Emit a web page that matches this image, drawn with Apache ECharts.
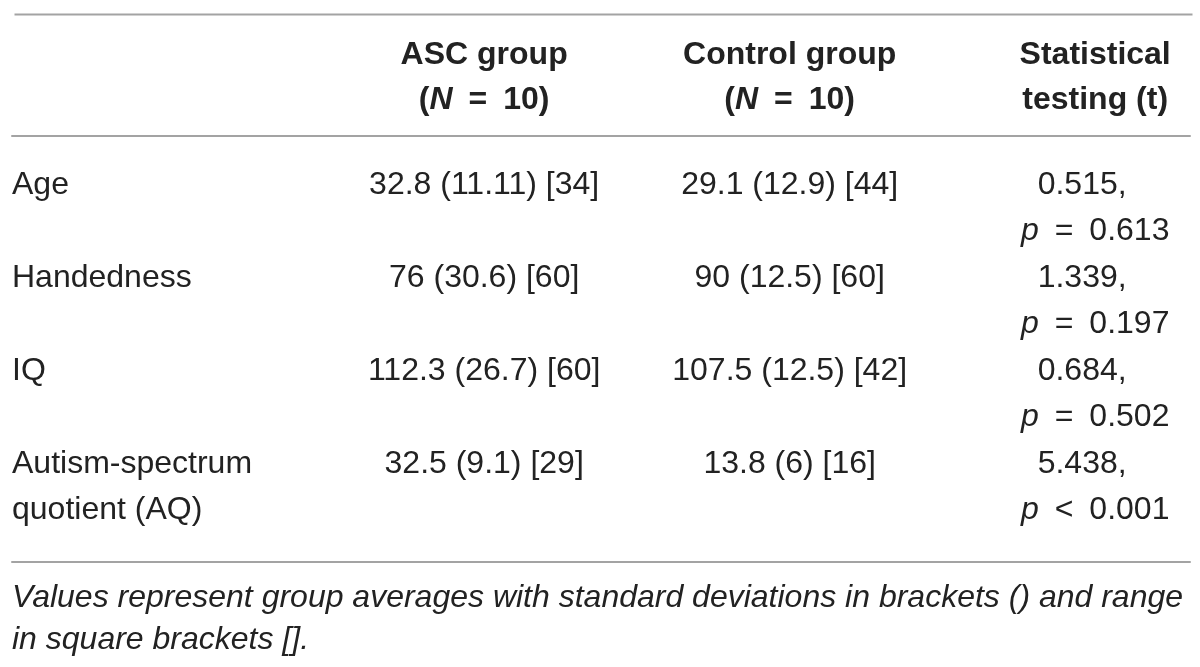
<!DOCTYPE html>
<html>
<head>
<meta charset="utf-8">
<title>Participant characteristics</title>
<script src="https://cdn.jsdelivr.net/npm/echarts@6/dist/echarts.min.js"></script>
<style>
  html, body { margin: 0; padding: 0; background: #fff; }
  #main { width: 1200px; height: 667px; }
</style>
</head>
<body>
<div id="main"></div>
<script>
// table content
const rowLabels = ['Age', 'Handedness', 'IQ', 'Autism-spectrum\nquotient (AQ)']
const groupTitles = ['ASC group', 'Control group']
const groupSizes = [10, 10]
const testTitle = ['Statistical', 'testing (t)']

const ascMean = ['32.8', '76', '112.3', '32.5']
const ascSd = ['11.11', '30.6', '26.7', '9.1']
const ascRange = [34, 60, 60, 29]

const ctrlMean = ['29.1', '90', '107.5', '13.8']
const ctrlSd = ['12.9', '12.5', '12.5', '6']
const ctrlRange = [44, 60, 42, 16]

const tValues = ['0.515', '1.339', '0.684', '5.438']
const pSigns = ['=', '=', '=', '<']
const pValues = ['0.613', '0.197', '0.502', '0.001']

const footNote = [
  'Values represent group averages with standard deviations in brackets () and range',
  'in square brackets [].'
]

const FAMILY = '"Liberation Sans", Arial, Helvetica, sans-serif'
const INK = '#222222'
const RULE = '#a3a3a3'
const SP = '\u2002'
const LINE = 46.5

function font(size, weight, style) {
  return { fontFamily: FAMILY, fontSize: size, fontWeight: weight || 'normal', fontStyle: style || 'normal', fill: INK }
}

// body cells: [column, row]
const cells = []
const cellText = []
rowLabels.forEach((name, r) => {
  cells.push([0, r]); cellText.push(name)
  cells.push([1, r]); cellText.push(`${ascMean[r]} (${ascSd[r]}) [${ascRange[r]}]`)
  cells.push([2, r]); cellText.push(`${ctrlMean[r]} (${ctrlSd[r]}) [${ctrlRange[r]}]`)
  cells.push([3, r]); cellText.push(`{t|${tValues[r]},}\n{i|p}${SP}${pSigns[r]}${SP}${pValues[r]}`)
})

// header cells, one per column
const headCells = [[1], [2], [3]]
const headText = [
  `${groupTitles[0]}\n({bi|N}${SP}=${SP}${groupSizes[0]})`,
  `${groupTitles[1]}\n({bi|N}${SP}=${SP}${groupSizes[1]})`,
  testTitle.join('\n')
]

const chart = echarts.init(document.getElementById('main'))

chart.setOption({
  animation: false,
  backgroundColor: '#ffffff',
  title: {
    text: footNote.join('\n'),
    left: 12,
    top: 577,
    padding: 0,
    textStyle: {
      fontFamily: FAMILY, fontSize: 32, fontStyle: 'italic', fontWeight: 'normal',
      color: INK, lineHeight: 42
    }
  },
  grid: { left: 12, right: 10, top: 136, bottom: 105 },
  xAxis: [
    {
      type: 'value', position: 'top', min: -0.5455, max: 3.3104,
      axisLine: { show: true, onZero: false, lineStyle: { color: RULE, width: 2 } },
      axisTick: { show: false }, axisLabel: { show: false }, splitLine: { show: false }
    },
    {
      type: 'value', position: 'bottom', min: -0.5455, max: 3.3104,
      axisLine: { show: true, onZero: false, lineStyle: { color: RULE, width: 2 } },
      axisTick: { show: false }, axisLabel: { show: false }, splitLine: { show: false }
    }
  ],
  // one unit = one table row (two text lines)
  yAxis: {
    type: 'value', inverse: true, min: -0.527, max: 4.054, show: false
  },
  graphic: [
    {
      type: 'line', left: 12, top: 12,
      shape: { x1: 0, y1: 0, x2: 1178, y2: 0 },
      style: { stroke: RULE, lineWidth: 2 }
    }
  ],
  series: [
    {
      type: 'custom',
      name: 'header',
      silent: true,
      data: headCells,
      renderItem(params, api) {
        const col = api.value(0)
        const pt = api.coord([col, 0])
        return {
          type: 'text',
          x: pt[0],
          y: params.coordSys.y - 103.5,
          style: Object.assign(font(32, 'bold'), {
            text: headText[params.dataIndex],
            align: 'center',
            verticalAlign: 'top',
            lineHeight: 45,
            rich: {
              bi: Object.assign(font(32, 'bold', 'italic'), { lineHeight: 45 })
            }
          })
        }
      }
    },
    {
      type: 'custom',
      name: 'body',
      silent: true,
      data: cells,
      renderItem(params, api) {
        const col = api.value(0)
        const row = api.value(1)
        const pt = api.coord([col, row])
        const first = col === 0
        return {
          type: 'text',
          x: first ? params.coordSys.x : pt[0],
          y: pt[1] - LINE / 2,
          style: Object.assign(font(32), {
            text: cellText[params.dataIndex],
            align: first ? 'left' : 'center',
            verticalAlign: 'top',
            lineHeight: LINE,
            rich: {
              i: Object.assign(font(32, 'normal', 'italic'), { lineHeight: LINE }),
              t: Object.assign(font(32), { lineHeight: LINE, padding: [0, 26, 0, 0] })
            }
          })
        }
      }
    }
  ]
})
</script>
</body>
</html>
